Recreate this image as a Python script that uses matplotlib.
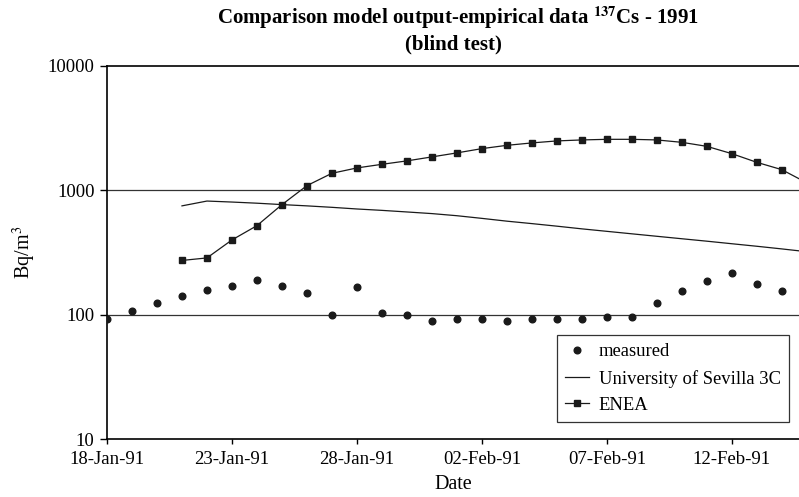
import pandas as pd
import matplotlib
matplotlib.use("Agg")
import matplotlib.pyplot as plt
import matplotlib.dates as mdates

# values (Bq/m3)
measured_dates = pd.date_range("1991-01-18", "1991-02-14", freq="D")
measured = [93, 108, 123, 141, 157, 171, 190, 171, 150, 100, 168, 104, 100, 89,
            92, 92, 89, 92, 92, 92, 96, 96, 125, 154, 186, 216, 176, 154]

model_dates = pd.date_range("1991-01-21", "1991-02-15", freq="D")
sevilla = [750, 820, 805, 788, 768, 750, 730, 708, 690, 670, 650, 625, 595,
           565, 540, 515, 490, 468, 447, 427, 408, 390, 372, 355, 338, 321]
enea = [273, 286, 399, 520, 767, 1091, 1371, 1514, 1619, 1725, 1857, 2000, 2165,
        2301, 2406, 2497, 2543, 2572, 2572, 2543, 2433, 2259, 1973, 1680, 1467, 1150]

tick_dates = pd.date_range("1991-01-18", "1991-02-12", freq="5D")

plt.rcParams["font.family"] = ["Liberation Serif", "DejaVu Serif"]
plt.rcParams["mathtext.fontset"] = "stix"

fig = plt.figure(figsize=(7.99, 4.97), dpi=100)
ax = fig.add_axes([107 / 799, 1 - 439 / 497, 692 / 799, 373 / 497])

ax.plot(measured_dates, measured, "o", color="#1a1a1a", markersize=4.8,
        label="measured", zorder=3)
ax.plot(model_dates, sevilla, "-", color="#1a1a1a", linewidth=0.9,
        label="University of Sevilla 3C")
ax.plot(model_dates, enea, "-s", color="#1a1a1a", linewidth=0.9, markersize=4.3,
        label="ENEA")

ax.set_yscale("log")
ax.set_ylim(10, 10000)
ax.set_yticks([10, 100, 1000, 10000])
ax.set_yticklabels(["10", "100", "1000", "10000"])
ax.yaxis.set_minor_locator(matplotlib.ticker.NullLocator())

start = mdates.date2num(pd.Timestamp("1991-01-18"))
ax.set_xlim(start, start + 27.69)
ax.set_xticks(tick_dates)
ax.set_xticklabels([d.strftime("%d-%b-%y") for d in tick_dates])

# gridlines only at 100 and 1000
for v in [100, 1000]:
    ax.axhline(v, color="#333333", linewidth=0.9, zorder=1)

ax.spines["right"].set_visible(False)
for s in ["left", "bottom", "top"]:
    ax.spines[s].set_linewidth(1.2)
ax.tick_params(labelsize=13.5, width=1, direction="out")
ax.tick_params(axis="y", length=5, pad=4)
ax.tick_params(axis="x", length=3.5, pad=5)

ax.set_xlabel("Date", fontsize=14.5, labelpad=5)
ax.set_ylabel("Bq/m$^3$", fontsize=14.5, labelpad=7)

fig.text(458 / 799, 1 - 18 / 497,
         "Comparison model output-empirical data $^{\\mathbf{137}}$Cs - 1991",
         ha="center", va="center", fontsize=15, fontweight="bold")
fig.text(453 / 799, 1 - 44 / 497, "(blind test)",
         ha="center", va="center", fontsize=15, fontweight="bold")

leg = ax.legend(loc="upper right", bbox_to_anchor=(0.9855, 0.2788),
                borderaxespad=0, fancybox=False, edgecolor="#333333",
                framealpha=1, fontsize=13.4, handlelength=1.3,
                handletextpad=0.5, labelspacing=0.5, borderpad=0.45)
leg.get_frame().set_linewidth(0.9)

fig.savefig("out.png", dpi=100)
